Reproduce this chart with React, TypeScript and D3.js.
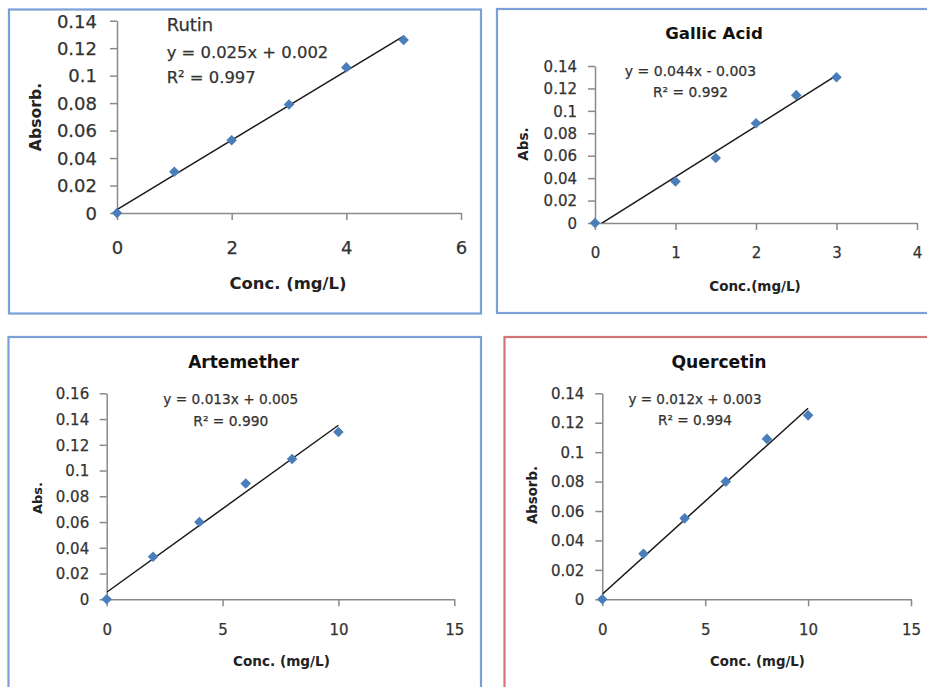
import React, { useEffect, useRef } from 'react';
import * as d3 from 'd3';

// ---------- data ----------
const rutinConc = [0, 1, 2, 3, 4, 5];
const rutinAbs = [0, 0.03, 0.053, 0.079, 0.106, 0.126];
const rutinXTicks = [0, 2, 4, 6];
const rutinYTicks = [0, 0.02, 0.04, 0.06, 0.08, 0.1, 0.12, 0.14];
const rutinLabel = ['Rutin', 'y = 0.025x + 0.002', 'R² = 0.997'];

const gallicConc = [0, 1, 1.5, 2, 2.5, 3];
const gallicAbs = [0, 0.037, 0.058, 0.089, 0.114, 0.13];
const gallicXTicks = [0, 1, 2, 3, 4];
const gallicYTicks = [0, 0.02, 0.04, 0.06, 0.08, 0.1, 0.12, 0.14];
const gallicLabel = ['y = 0.044x - 0.003', 'R² = 0.992'];

const artConc = [0, 2, 4, 6, 8, 10];
const artAbs = [0, 0.033, 0.06, 0.09, 0.109, 0.13];
const artXTicks = [0, 5, 10, 15];
const artYTicks = [0, 0.02, 0.04, 0.06, 0.08, 0.1, 0.12, 0.14, 0.16];
const artLabel = ['y = 0.013x + 0.005', 'R² = 0.990'];

const querConc = [0, 2, 4, 6, 8, 10];
const querAbs = [0, 0.031, 0.055, 0.08, 0.109, 0.125];
const querXTicks = [0, 5, 10, 15];
const querYTicks = [0, 0.02, 0.04, 0.06, 0.08, 0.1, 0.12, 0.14];
const querLabel = ['y = 0.012x + 0.003', 'R² = 0.994'];

const titles = ['', 'Gallic Acid', 'Artemether', 'Quercetin'];
const xTitles = ['Conc. (mg/L)', 'Conc.(mg/L)', 'Conc. (mg/L)', 'Conc. (mg/L)'];
const yTitles = ['Absorb.', 'Abs.', 'Abs.', 'Absorb.'];

const FONT = "'DejaVu Sans', sans-serif";
const BLUE = '#7ba0d8';
const RED = '#d47474';
const MARKER = '#4a7ebb';
const TEXT = '#333333';

const panels = [
  {
    conc: rutinConc, abs: rutinAbs, xTicks: rutinXTicks, yTicks: rutinYTicks, label: rutinLabel,
    title: titles[0], xTitle: xTitles[0], yTitle: yTitles[0],
    box: [9, 9.5, 472, 304], border: BLUE,
    px: [117, 461], py: [213, 20.7],
    tickSize: 18, yLabGap: 20, xLabDy: 35,
    xTitlePos: [288, 283, 16.4], yTitlePos: [35, 117, 15.7],
    labelPos: { x: 166.7, ys: [25, 52, 77], sizes: [18, 16.4, 16.4], anchor: 'start' },
  },
  {
    conc: gallicConc, abs: gallicAbs, xTicks: gallicXTicks, yTicks: gallicYTicks, label: gallicLabel,
    title: titles[1], xTitle: xTitles[1], yTitle: yTitles[1],
    box: [497, 9, 440, 304], border: BLUE,
    px: [595, 917], py: [223, 66],
    tickSize: 15, yLabGap: 18, xLabDy: 30,
    titlePos: [714, 33, 16.6],
    xTitlePos: [755, 286, 13.5], yTitlePos: [523, 144, 13.5],
    labelPos: { x: 690.5, ys: [70.7, 92], sizes: [14, 13.8], anchor: 'middle' },
  },
  {
    conc: artConc, abs: artAbs, xTicks: artXTicks, yTicks: artYTicks, label: artLabel,
    title: titles[2], xTitle: xTitles[2], yTitle: yTitles[2],
    box: [8.5, 337, 472.5, 360], border: BLUE,
    px: [106.7, 454.3], py: [599.3, 393.3],
    tickSize: 15, yLabGap: 17.5, xLabDy: 30.5,
    titlePos: [243.5, 362, 17],
    xTitlePos: [281.5, 661.7, 13.6], yTitlePos: [37, 498, 13],
    labelPos: { x: 230.8, ys: [399.3, 420.7], sizes: [13.7, 13.8], anchor: 'middle' },
  },
  {
    conc: querConc, abs: querAbs, xTicks: querXTicks, yTicks: querYTicks, label: querLabel,
    title: titles[3], xTitle: xTitles[3], yTitle: yTitles[3],
    box: [504.5, 337, 440, 360], border: RED,
    px: [602.3, 911], py: [599.3, 393.3],
    tickSize: 15, yLabGap: 18, xLabDy: 30.5,
    titlePos: [719, 362, 17.2],
    xTitlePos: [757.5, 661.7, 13.3], yTitlePos: [532.3, 495, 13.3],
    labelPos: { x: 695, ys: [399.3, 420.7], sizes: [13.5, 13.6], anchor: 'middle' },
  },
];

function fmt(v: number) {
  return String(+v.toFixed(2));
}

export default function App() {
  const ref = useRef<SVGSVGElement | null>(null);

  useEffect(() => {
    const svg = d3.select(ref.current);
    svg.selectAll('*').remove();
    svg.append('rect').attr('width', 927).attr('height', 687).attr('fill', '#fff');

    panels.forEach((p: any, i: number) => {
      const g = svg.append('g');
      const [bx, by, bw, bh] = p.box;
      g.append('rect').attr('x', bx).attr('y', by).attr('width', bw).attr('height', bh)
        .attr('fill', '#fff').attr('stroke', p.border).attr('stroke-width', 2.2);

      const x = d3.scaleLinear().domain([p.xTicks[0], p.xTicks[p.xTicks.length - 1]]).range(p.px);
      const y = d3.scaleLinear().domain([p.yTicks[0], p.yTicks[p.yTicks.length - 1]]).range(p.py);

      // axes
      const xAxis = d3.axisBottom(x).tickValues(p.xTicks).tickSize(7).tickSizeOuter(0).tickFormat((d: any) => fmt(+d));
      const yAxis = d3.axisLeft(y).tickValues(p.yTicks).tickSize(7).tickSizeOuter(0).tickFormat((d: any) => fmt(+d));
      const gx = g.append('g').attr('transform', `translate(0,${p.py[0]})`).call(xAxis);
      const gy = g.append('g').attr('transform', `translate(${p.px[0]},0)`).call(yAxis);
      [gx, gy].forEach((ax) => {
        ax.select('.domain').attr('stroke', '#8a8a8a').attr('stroke-width', 1.5);
        ax.selectAll('.tick line').attr('stroke', '#8a8a8a').attr('stroke-width', 1.5);
        ax.selectAll('.tick text').attr('fill', TEXT).attr('font-family', FONT).attr('font-size', p.tickSize)
          .attr('stroke', TEXT).attr('stroke-width', 0.25);
      });
      gx.selectAll('.tick text').attr('y', p.xLabDy).attr('dy', '0.35em');
      gy.selectAll('.tick text').attr('x', -p.yLabGap).attr('dy', '0.35em');

      // trendline (least squares), clipped to plot area
      const n = p.conc.length;
      const mx = d3.mean(p.conc) as number;
      const my = d3.mean(p.abs) as number;
      let sxy = 0, sxx = 0;
      for (let k = 0; k < n; k++) {
        sxy += (p.conc[k] - mx) * (p.abs[k] - my);
        sxx += (p.conc[k] - mx) ** 2;
      }
      const slope = sxy / sxx;
      const icpt = my - slope * mx;
      const x0 = d3.min(p.conc) as number;
      const x1 = d3.max(p.conc) as number;
      const clipId = `clip${i}`;
      g.append('clipPath').attr('id', clipId).append('rect')
        .attr('x', p.px[0]).attr('y', p.py[1] - 2).attr('width', p.px[1] - p.px[0]).attr('height', p.py[0] - p.py[1] + 2);
      const line = d3.line<number>().x((d) => x(d)).y((d) => y(slope * d + icpt));
      g.append('path').attr('d', line([x0, x1]) as string).attr('clip-path', `url(#${clipId})`)
        .attr('stroke', '#1a1a1a').attr('stroke-width', 1.5).attr('fill', 'none');

      // markers
      const sym = d3.symbol().type(d3.symbolSquare).size(56);
      g.selectAll('path.pt').data(p.conc).enter().append('path').attr('class', 'pt')
        .attr('d', sym() as string)
        .attr('transform', (d: any, k: number) => `translate(${x(d)},${y(p.abs[k])}) rotate(45)`)
        .attr('fill', MARKER);

      // title
      if (p.title) {
        g.append('text').attr('x', p.titlePos[0]).attr('y', p.titlePos[1]).attr('text-anchor', 'middle')
          .attr('dy', '0.35em').attr('font-family', FONT).attr('font-weight', 'bold')
          .attr('font-size', p.titlePos[2]).attr('fill', '#111').text(p.title);
      }
      // equation label
      p.label.forEach((t: string, k: number) => {
        g.append('text').attr('x', p.labelPos.x).attr('y', p.labelPos.ys[k]).attr('dy', '0.35em')
          .attr('text-anchor', p.labelPos.anchor).attr('font-family', FONT)
          .attr('font-size', p.labelPos.sizes[k]).attr('fill', TEXT)
          .attr('stroke', TEXT).attr('stroke-width', 0.25).text(t);
      });
      // axis titles
      g.append('text').attr('x', p.xTitlePos[0]).attr('y', p.xTitlePos[1]).attr('dy', '0.35em')
        .attr('text-anchor', 'middle').attr('font-family', FONT).attr('font-weight', 'bold')
        .attr('font-size', p.xTitlePos[2]).attr('fill', '#222').text(p.xTitle);
      g.append('text').attr('transform', `translate(${p.yTitlePos[0]},${p.yTitlePos[1]}) rotate(-90)`)
        .attr('dy', '0.35em').attr('text-anchor', 'middle').attr('font-family', FONT).attr('font-weight', 'bold')
        .attr('font-size', p.yTitlePos[2]).attr('fill', '#222').text(p.yTitle);
    });
  }, []);

  return (
    <svg ref={ref} width={927} height={687}
      style={{ position: 'absolute', left: 0, top: 0, display: 'block' }} />
  );
}
